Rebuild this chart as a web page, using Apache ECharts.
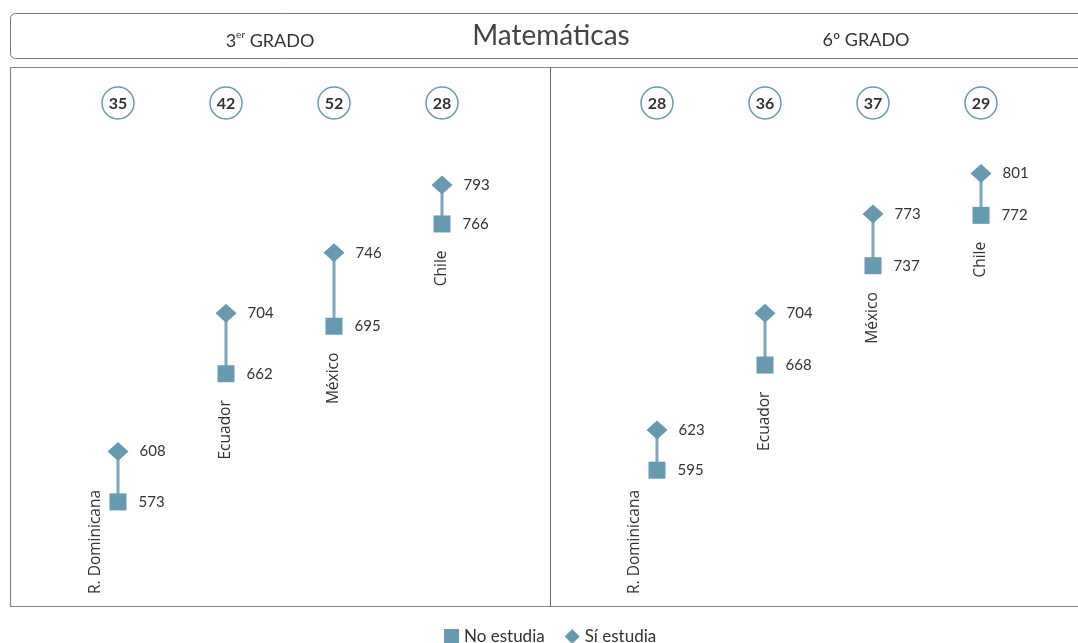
<!DOCTYPE html>
<html><head><meta charset="utf-8">
<script src="https://cdn.jsdelivr.net/npm/echarts@6/dist/echarts.min.js"></script>
<style>html,body{margin:0;padding:0;background:#fff}#c{width:1078px;height:643px}</style>
</head><body><div id="c"></div>
<script>
const countries = ['R. Dominicana', 'Ecuador', 'México', 'Chile'];
const noEstudia3 = [573, 662, 695, 766];
const siEstudia3 = [608, 704, 746, 793];
const diff3 = [35, 42, 52, 28];
const noEstudia6 = [595, 668, 737, 772];
const siEstudia6 = [623, 704, 773, 801];
const diff6 = [28, 36, 37, 29];
const gradeTitles = ['{n|3}{s|er}{n| GRADO}', '{n|6º GRADO}'];
const mainTitle = 'Matemáticas';
const seriesNames = ['No estudia', 'Sí estudia'];
const yMin = 500, yMax = 875;

const C = '#6799b0';
const LINE = '#7ca7ba';
const TXT = '#333';
const FONT = 'Lato, "Open Sans", sans-serif';

const chart = echarts.init(document.getElementById('c'));
const measure = document.createElement('canvas').getContext('2d');
measure.font = '15px "Open Sans"';

function panel(g, no, si, diff) {
  const pts = countries.map((c, i) => [i, no[i], si[i]]);
  return [
    {
      type: 'custom', xAxisIndex: g, yAxisIndex: g, z: 1, silent: true,
      data: pts,
      renderItem(params, api) {
        const a = api.coord([api.value(0), api.value(1)]);
        const b = api.coord([api.value(0), api.value(2)]);
        return { type: 'line', shape: { x1: a[0], y1: a[1], x2: b[0], y2: b[1] },
          style: { stroke: LINE, lineWidth: 3 } };
      }
    },
    {
      name: seriesNames[0], type: 'scatter', xAxisIndex: g, yAxisIndex: g, z: 3,
      symbol: 'rect', symbolSize: 17, itemStyle: { color: C, opacity: 1 },
      data: no.map((v, i) => [i, v]),
      label: { show: true, position: 'right', distance: 12, color: TXT, fontSize: 15, fontFamily: FONT,
        formatter: p => p.value[1] }
    },
    {
      name: seriesNames[1], type: 'scatter', xAxisIndex: g, yAxisIndex: g, z: 3,
      symbol: 'diamond', symbolSize: [21, 19], itemStyle: { color: C, opacity: 1 },
      data: si.map((v, i) => [i, v]),
      label: { show: true, position: 'right', distance: 11, color: TXT, fontSize: 15, fontFamily: FONT,
        formatter: p => p.value[1] }
    },
    {
      type: 'custom', xAxisIndex: g, yAxisIndex: g, z: 4, silent: true,
      data: diff.map((d, i) => [i, d]),
      encode: { x: 0 },
      renderItem(params, api) {
        const x = api.coord([api.value(0), yMax])[0];
        const y = params.coordSys.y + 36;
        return { type: 'group', children: [
          { type: 'circle', shape: { cx: x, cy: y, r: 16 }, style: { fill: '#fff', stroke: C, lineWidth: 1.5 } },
          { type: 'text', x: x, y: y + 1, style: { text: String(api.value(1)), fill: TXT, fontSize: 16,
            fontWeight: 'bold', fontFamily: FONT, align: 'center', verticalAlign: 'middle' } }
        ] };
      }
    },
    {
      type: 'custom', xAxisIndex: g, yAxisIndex: g, z: 4, silent: true,
      data: no.map((v, i) => [i, v]),
      renderItem(params, api) {
        const p = api.coord([api.value(0), api.value(1)]);
        const name = countries[api.value(0)];
        const w = measure.measureText(name).width;
        const bottom = params.coordSys.y + params.coordSys.height;
        let x = p[0], top = p[1] + 8.5 + 18;
        let align = 'right';
        let ay = top;
        if (top + w > bottom - 10) {
          x = p[0] - 22; ay = bottom - 13; align = 'left';
        }
        return { type: 'text', x: x, y: ay, rotation: Math.PI / 2,
          style: { text: name, fill: TXT, fontSize: 15.5, fontFamily: '"Open Sans", sans-serif',
            align: align, verticalAlign: 'middle' } };
      }
    }
  ];
}

const grids = [
  { left: 64, width: 432, top: 67, height: 540 },
  { left: 603, width: 432, top: 67, height: 540 }
];

chart.setOption({
  animation: false,
  grid: grids,
  xAxis: grids.map((g, i) => ({ type: 'category', gridIndex: i, data: countries, show: false, boundaryGap: true })),
  yAxis: grids.map((g, i) => ({ type: 'value', gridIndex: i, min: yMin, max: yMax, show: false, splitLine: { show: false } })),
  legend: {
    left: 439, top: 623, itemWidth: 15, itemHeight: 15, itemGap: 20,
    textStyle: { color: TXT, fontSize: 17, fontFamily: FONT },
    data: [{ name: seriesNames[0], icon: 'rect' }, { name: seriesNames[1], icon: 'diamond' }]
  },
  graphic: [
    { type: 'rect', z: 0, shape: { x: 10.5, y: 13.5, width: 1090, height: 45, r: 5 },
      style: { fill: 'none', stroke: '#777', lineWidth: 1 } },
    { type: 'rect', z: 0, shape: { x: 10.5, y: 67.5, width: 1090, height: 539 },
      style: { fill: 'none', stroke: '#888', lineWidth: 1.2 } },
    { type: 'line', z: 0, shape: { x1: 550.5, y1: 67, x2: 550.5, y2: 607 },
      style: { stroke: '#666', lineWidth: 1 } },
    { type: 'text', x: 551, y: 36, style: { text: mainTitle, fill: '#444', fontSize: 28, fontFamily: FONT,
      align: 'center', verticalAlign: 'middle' } },
    { type: 'text', x: 270, y: 40, style: { text: gradeTitles[0], align: 'center', verticalAlign: 'middle',
      rich: { n: { fontSize: 18, fill: TXT, fontFamily: FONT, lineHeight: 20, verticalAlign: 'bottom' },
              s: { fontSize: 10, fill: TXT, fontFamily: FONT, lineHeight: 20, verticalAlign: 'top', padding: [0, 0, 10, 0] } } } },
    { type: 'text', x: 866, y: 40, style: { text: gradeTitles[1], align: 'center', verticalAlign: 'middle',
      rich: { n: { fontSize: 18, fill: TXT, fontFamily: FONT } } } }
  ],
  series: [...panel(0, noEstudia3, siEstudia3, diff3), ...panel(1, noEstudia6, siEstudia6, diff6)]
});
</script></body></html>
